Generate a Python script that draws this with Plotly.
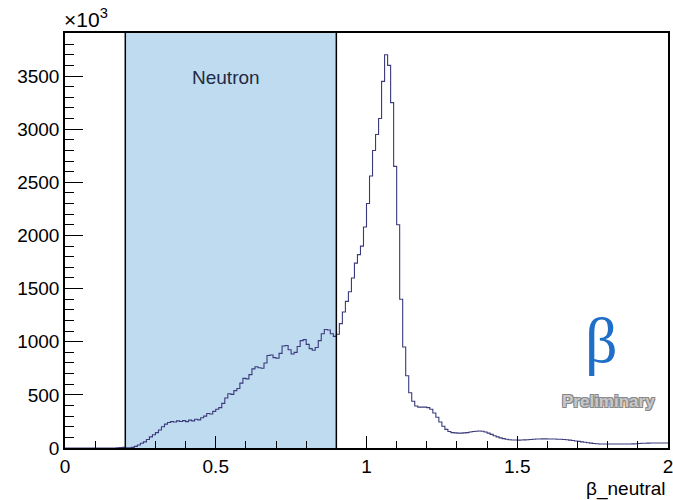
import numpy as np
import plotly.graph_objects as go

# ---- data (counts in units of 10^3 per bin of width 0.01, beta from 0 to 2) ----
bin_low = 0.0
bin_width = 0.01
counts = [
    # 0.00 - 0.19
    0, 0, 0, 0, 0, 0, 0, 0, 0, 0,
    0, 0, 0, 0, 0, 0, 0, 3, 5, 6,
    # 0.20 - 0.39
    2, 3, 6, 15, 28, 45, 58, 80, 105, 125,
    145, 170, 200, 225, 240, 248, 245, 255, 250, 258,
    # 0.40 - 0.59
    248, 262, 255, 270, 265, 285, 300, 325, 320, 345,
    365, 380, 420, 470, 510, 505, 540, 560, 610, 655,
    # 0.60 - 0.79
    650, 690, 745, 765, 755, 750, 800, 870, 875, 850,
    845, 890, 960, 965, 925, 885, 900, 955, 1010, 1020,
    # 0.80 - 0.99
    975, 935, 920, 945, 1010, 1075, 1115, 1110, 1075, 1050,
    1070, 1170, 1280, 1380, 1470, 1600, 1740, 1820, 1900, 2080,
    # 1.00 - 1.19
    2300, 2560, 2800, 2950, 3100, 3450, 3700, 3600, 3250, 2650,
    2100, 1400, 950, 680, 520, 440, 395, 385, 385, 385,
    # 1.20 - 1.39
    380, 365, 330, 290, 245, 205, 175, 155, 145, 142,
    140, 140, 142, 145, 150, 155, 158, 160, 158, 150,
    # 1.40 - 1.59
    140, 128, 115, 105, 95, 88, 82, 78, 75, 75,
    74, 75, 76, 77, 80, 82, 84, 85, 86, 86,
    # 1.60 - 1.79
    85, 85, 84, 83, 82, 80, 78, 74, 70, 66,
    62, 58, 54, 50, 46, 43, 40, 38, 38, 38,
    # 1.80 - 1.99
    38, 38, 38, 38, 38, 38, 38, 38, 39, 40,
    42, 44, 45, 46, 47, 47, 47, 47, 47, 47,
]
neutron_range = [0.2, 0.9]
y_ticks = [0, 500, 1000, 1500, 2000, 2500, 3000, 3500]
x_ticks = [0, 0.5, 1, 1.5, 2]
x_tick_text = ["0", "0.5", "1", "1.5", "2"]

edges = bin_low + bin_width * np.arange(len(counts) + 1)
edges = np.round(edges, 4)
y_step = list(counts) + [counts[-1]]

FONT = "Liberation Sans, Arial, sans-serif"

fig = go.Figure()

fig.add_trace(go.Scatter(
    x=edges, y=y_step, mode="lines", line_shape="hv",
    line=dict(color="#3a3a7c", width=1.1),
    hoverinfo="skip", showlegend=False,
))

# Neutron selection band
fig.add_shape(type="rect", xref="x", yref="paper",
              x0=neutron_range[0], x1=neutron_range[1], y0=0, y1=1,
              fillcolor="#bfdbef", line=dict(width=0), layer="below")
for xv in neutron_range:
    fig.add_shape(type="line", xref="x", yref="paper",
                  x0=xv, x1=xv, y0=0, y1=1,
                  line=dict(color="black", width=1.5), layer="above")

fig.add_annotation(x=0.534, y=3490, xref="x", yref="y", text="Neutron",
                   showarrow=False, font=dict(family=FONT, size=19, color="#1f2a44"))

# x10^3 multiplier
fig.add_annotation(x=0, y=1, xref="paper", yref="paper", xanchor="left",
                   yanchor="bottom", xshift=-3, yshift=0, text="×10<sup>3</sup>",
                   showarrow=False, font=dict(family=FONT, size=21, color="black"))

# x axis title
fig.add_annotation(x=1, y=0, xref="paper", yref="paper", xanchor="right",
                   yanchor="top", yshift=-28, text="β_neutral",
                   showarrow=False, font=dict(family=FONT, size=19, color="black"))

# logo
fig.add_annotation(x=1.781, y=1010, xref="x", yref="y", text="β",
                   showarrow=False,
                   font=dict(family="Liberation Serif, DejaVu Serif, serif", size=64, color="#1f6fc8"))
fig.add_annotation(x=1.804, y=433, xref="x", yref="y", text="<b>Preliminary</b>",
                   showarrow=False,
                   font=dict(family=FONT, size=17, color="#c8c8c8",
                             shadow="-1px -1px 0 #888, 1px -1px 0 #888, -1px 1px 0 #888, 1px 1px 0 #888"))

fig.update_layout(
    width=673, height=500,
    margin=dict(l=65, r=5, t=33, b=52, autoexpand=False),
    paper_bgcolor="white", plot_bgcolor="white",
    font=dict(family=FONT, size=18, color="black"),
)

fig.update_xaxes(
    range=[0, 2], tickvals=x_ticks, ticktext=x_tick_text, automargin=False,
    ticklabeloverflow="allow",
    ticks="inside", ticklen=12, tickwidth=1, tickcolor="black",
    minor=dict(ticks="inside", ticklen=7, dtick=0.1, tickcolor="black", showgrid=False),
    showgrid=False, zeroline=False, showline=True, linecolor="black",
    linewidth=1.5, mirror=True, tickfont=dict(size=19),
)
fig.update_yaxes(
    range=[0, 3905], tickvals=y_ticks, automargin=False,
    ticks="inside", ticklen=18, tickwidth=1, tickcolor="black",
    minor=dict(ticks="inside", ticklen=9, dtick=100, tickcolor="black", showgrid=False),
    showgrid=False, zeroline=False, showline=True, linecolor="black",
    linewidth=1.5, mirror=True, tickfont=dict(size=19),
)

fig.write_html("out.html")
